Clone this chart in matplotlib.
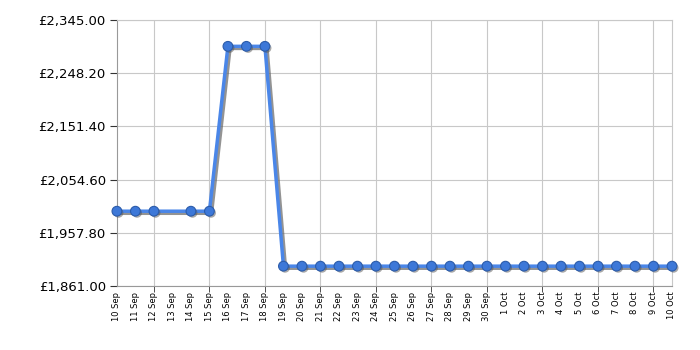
import matplotlib.pyplot as plt
import matplotlib.patheffects as pe

# x-axis labels (one per day)
day_labels = ["10 Sep", "11 Sep", "12 Sep", "13 Sep", "14 Sep", "15 Sep", "16 Sep", "17 Sep",
              "18 Sep", "19 Sep", "20 Sep", "21 Sep", "22 Sep", "23 Sep", "24 Sep", "25 Sep",
              "26 Sep", "27 Sep", "28 Sep", "29 Sep", "30 Sep", "1 Oct", "2 Oct", "3 Oct",
              "4 Oct", "5 Oct", "6 Oct", "7 Oct", "8 Oct", "9 Oct", "10 Oct"]

# price points (no reading on 13 Sep)
point_days = ["10 Sep", "11 Sep", "12 Sep", "14 Sep", "15 Sep", "16 Sep", "17 Sep", "18 Sep",
              "19 Sep", "20 Sep", "21 Sep", "22 Sep", "23 Sep", "24 Sep", "25 Sep", "26 Sep",
              "27 Sep", "28 Sep", "29 Sep", "30 Sep", "1 Oct", "2 Oct", "3 Oct", "4 Oct",
              "5 Oct", "6 Oct", "7 Oct", "8 Oct", "9 Oct", "10 Oct"]
prices = [1997, 1997, 1997, 1997, 1997, 2297, 2297, 2297,
          1897, 1897, 1897, 1897, 1897, 1897, 1897, 1897,
          1897, 1897, 1897, 1897, 1897, 1897, 1897, 1897,
          1897, 1897, 1897, 1897, 1897, 1897]

y_ticks = [1861.00, 1957.80, 2054.60, 2151.40, 2248.20, 2345.00]

xs = [day_labels.index(d) for d in point_days]

fig = plt.figure(figsize=(7, 3.5), dpi=100)
ax = fig.add_axes([0.167, 0.183, 0.793, 0.76])

# line with a soft grey drop shadow
ax.plot(xs, prices, color="#4a86e8", linewidth=2.5, zorder=3, clip_on=False,
        path_effects=[pe.SimpleLineShadow(offset=(1.5, -1.5), shadow_color="#666666", alpha=0.7),
                      pe.Normal()])
# markers
ax.plot(xs, prices, linestyle="none", marker="o", markersize=7,
        markerfacecolor="#3d78d8", markeredgecolor="#2c5caa", markeredgewidth=0.8,
        zorder=4, clip_on=False,
        path_effects=[pe.SimplePatchShadow(offset=(1.2, -1.2), shadow_rgbFace="#555555", alpha=0.5),
                      pe.Normal()])

ax.set_xlim(0, len(day_labels) - 1)
ax.set_ylim(y_ticks[0], y_ticks[-1])

ax.set_yticks(y_ticks)
ax.set_yticklabels(["£{:,.2f}".format(v) for v in y_ticks], fontsize=9.5)

ax.xaxis.remove_overlapping_locs = False
ax.set_xticks(range(len(day_labels)))
ax.set_xticklabels(day_labels, rotation=90, fontsize=6)
ax.set_xticks(range(2, len(day_labels), 3), minor=True)

ax.tick_params(axis="x", which="major", length=0, pad=4)
ax.tick_params(axis="x", which="minor", length=4, color="#333333")
ax.tick_params(axis="y", length=5, color="#333333", pad=3)

ax.grid(axis="y", color="#c8c8c8", linewidth=0.8)
ax.grid(axis="x", which="minor", color="#c8c8c8", linewidth=0.8)
ax.set_axisbelow(True)

for s in ["top", "right"]:
    ax.spines[s].set_color("#c8c8c8")
for s in ["left", "bottom"]:
    ax.spines[s].set_color("#999999")

plt.savefig("out.png")
